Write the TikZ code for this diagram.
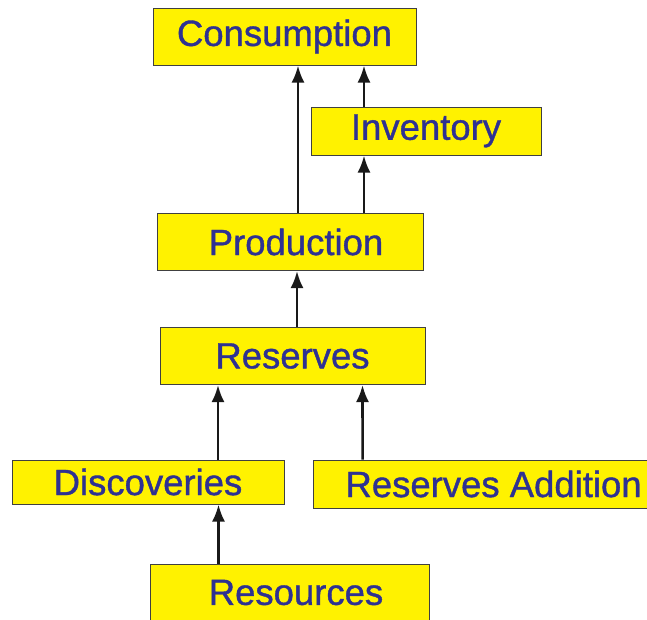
\documentclass[tikz,border=0pt]{standalone}
\usepackage{fontspec}
\setmainfont{Liberation Sans}
\newfontfamily\boxfont[FakeBold=1]{Liberation Sans}
\usetikzlibrary{positioning, arrows.meta}
\definecolor{boxyellow}{RGB}{255,242,0}
\definecolor{textblue}{RGB}{46,49,146}
\tikzset{
flow/.style={-{Latex[length=17pt,width=13pt]}, line width=2.6pt, draw=black!90}, % the upward arrows
box/.style={draw=black!75, line width=1pt, fill=boxyellow, text=textblue, inner sep=0pt,
 font=\boxfont\fontsize{36.5}{40}\selectfont, minimum height=57pt}, % yellow boxes
}

\begin{document}
\begin{tikzpicture}[x=1pt, y=-1pt]
\clip (0,0) rectangle (647,619);
\node[box, minimum width=263pt] (cons) at (284.5,36.5) {Consumption};
\node[box, minimum width=230pt, minimum height=48pt] (inv) at (426,131) {Inventory};
\node[box, minimum width=266pt] (prod) at (290,242) {\hspace{12pt}Production};
\node[box, minimum width=265pt] (res) at (292.5,356) {Reserves\hspace{8pt}};
\node[box, minimum width=272pt, minimum height=44pt] (disc) at (148,482) {Discoveries};
\node[box, minimum width=360pt, minimum height=48pt] (radd) at (493.6,484) {Reserves Addition};
\node[box, minimum width=279pt] (resc) at (290,592.5) {\hspace{12pt}Resources};

\draw[flow] ([xshift=8pt]prod.north) -- ([xshift=13.5pt]cons.south);
\draw[flow] ([xshift=74pt]prod.north) -- ([xshift=-62pt]inv.south);
\draw[flow] ([xshift=-62pt]inv.north) -- ([xshift=79.5pt]cons.south);
\draw[flow] ([xshift=4.5pt]res.north) -- ([xshift=7pt]prod.south);
\draw[flow] ([xshift=70pt]disc.north) -- ([xshift=-74.5pt]res.south);
\draw[flow] ([xshift=-131pt]radd.north) -- ([xshift=70pt]res.south);
\draw[flow] ([xshift=-71.5pt]resc.north) -- ([xshift=70.5pt]disc.south);

\end{tikzpicture}
\end{document}
